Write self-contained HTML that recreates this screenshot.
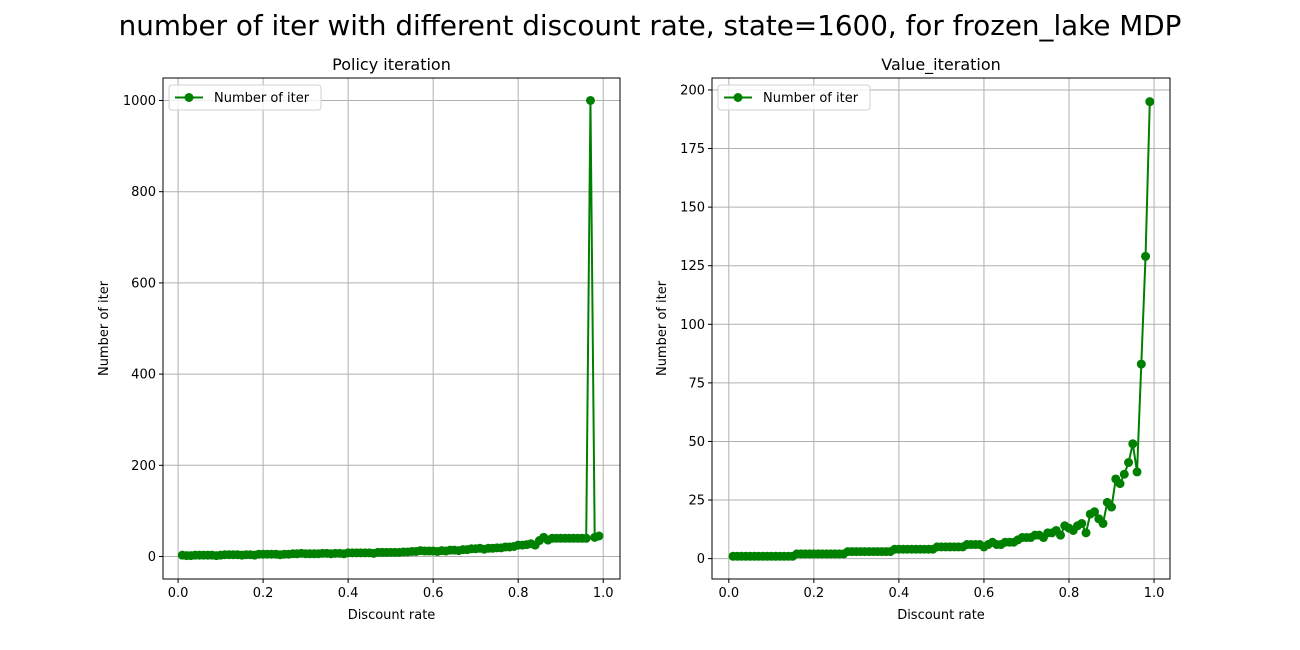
<!DOCTYPE html>
<html><head><meta charset="utf-8"><style>
body{margin:0;background:#fff;}
svg{display:block;font-family:"DejaVu Sans","Liberation Sans",sans-serif;}
</style></head><body>
<svg id="fig" width="1300" height="650">
<rect width="1300" height="650" fill="#fff"/>
<text x="650" y="35" font-size="27.8" text-anchor="middle">number of iter with different discount rate, state=1600, for frozen_lake MDP</text>
</svg>
<script>
const discountRates = Array.from({length:99},(_, i)=>+((i+1)/100).toFixed(2));
const policyIter = [3,2,2,3,3,3,3,3,2,3, 4,4,4,4,3,4,4,3,5,5, 5,5,5,4,5,5,6,6,7,6, 6,6,6,7,7,6,7,7,6,8, 8,8,8,8,8,7,9,9,9,9, 9,9,10,10,11,11,13,12,12,12, 11,13,12,14,14,13,15,15,17,17, 18,16,18,18,19,19,21,21,22,25, 25,26,28,25,35,42,36,40,40,40, 40,40,40,40,40,40,1000,42,45];
const valueIter = [1,1,1,1,1,1,1,1,1,1, 1,1,1,1,1,2,2,2,2,2, 2,2,2,2,2,2,2,3,3,3, 3,3,3,3,3,3,3,3,4,4, 4,4,4,4,4,4,4,4,5,5, 5,5,5,5,5,6,6,6,6,5, 6,7,6,6,7,7,7,8,9,9, 9,10,10,9,11,11,12,10,14,13, 12,14,15,11,19,20,17,15,24,22, 34,32,36,41,49,37,83,129,195];
const xTicks = [0,0.2,0.4,0.6,0.8,1.0];
const xTickLabels = ["0.0","0.2","0.4","0.6","0.8","1.0"];
const yTicksL = [0,200,400,600,800,1000];
const yTicksR = [0,25,50,75,100,125,150,175,200];

const NS="http://www.w3.org/2000/svg";
const svg=document.getElementById('fig');
function mk(tag,attrs,parent){const e=document.createElementNS(NS,tag);for(const k in attrs)e.setAttribute(k,attrs[k]);(parent||svg).appendChild(e);return e;}

function panel(cfg){
  const {x0,x1,y0,y1,xmin,xmax,ymin,ymax,yTicks,ys,title,key}=cfg;
  const sx=v=>x0+(v-xmin)/(xmax-xmin)*(x1-x0);
  const sy=v=>y1-(v-ymin)/(ymax-ymin)*(y1-y0);
  const g=mk('g',{});
  
  
  xTicks.forEach((t,i)=>{
    const X=sx(t);
    const gl=mk('line',{x1:X,x2:X,y1:y0,y2:y1,stroke:'#b0b0b0','stroke-width':1},g);
    
    
    mk('line',{x1:X,x2:X,y1:y1,y2:y1+4,stroke:'#000'},g);
    const tl=mk('text',{x:X,y:y1+18,'font-size':13,'text-anchor':'middle'},g);
    tl.textContent=xTickLabels[i];
    
    
  });
  yTicks.forEach(t=>{
    const Y=sy(t);
    const gl=mk('line',{x1:x0,x2:x1,y1:Y,y2:Y,stroke:'#b0b0b0','stroke-width':1},g);
    
    
    mk('line',{x1:x0-4,x2:x0,y1:Y,y2:Y,stroke:'#000'},g);
    const tl=mk('text',{x:x0-7,y:Y+4.5,'font-size':13,'text-anchor':'end'},g);
    tl.textContent=String(t);
    
    
  });
  const pts=discountRates.map((d,i)=>sx(d).toFixed(2)+','+sy(ys[i]).toFixed(2)).join(' ');
  const line=mk('polyline',{points:pts,fill:'none',stroke:'#008000','stroke-width':2},g);
  
  
  discountRates.forEach((d,i)=>{
    const c=mk('circle',{cx:sx(d),cy:sy(ys[i]),r:4.5,fill:'#008000'},g);
    
    
  });
  const fr=mk('rect',{x:x0,y:y0,width:x1-x0,height:y1-y0,fill:'none',stroke:'#000','stroke-width':1},g);
  
  
  const tt=mk('text',{x:(x0+x1)/2,y:y0-8,'font-size':16,'text-anchor':'middle'},g);
  tt.textContent=title;
  
  
  const xl=mk('text',{x:(x0+x1)/2,y:y1+40,'font-size':13,'text-anchor':'middle'},g);
  xl.textContent='Discount rate';
  
  
  const yl=mk('text',{x:0,y:0,'font-size':13,'text-anchor':'middle',transform:`translate(${cfg.ylx},${(y0+y1)/2}) rotate(-90)`},g);
  yl.textContent='Number of iter';
  
  
  const lg=mk('g',{},g);
  
  
  mk('rect',{x:x0+6,y:y0+7,width:152,height:25,rx:3,fill:'#fff','fill-opacity':0.8,stroke:'#d0d0d0'},lg);
  mk('line',{x1:x0+12,x2:x0+40,y1:y0+19.5,y2:y0+19.5,stroke:'#008000','stroke-width':2},lg);
  mk('circle',{cx:x0+26,cy:y0+19.5,r:4.5,fill:'#008000'},lg);
  const lt=mk('text',{x:x0+51,y:y0+24,'font-size':13},lg);
  lt.textContent='Number of iter';
  
  
}
panel({key:'policy',x0:163,x1:620,y0:78,y1:579,xmin:-0.0355,xmax:1.0395,ymin:-49.3,ymax:1049.3,yTicks:yTicksL,ys:policyIter,title:'Policy iteration',ylx:108});
panel({key:'value',x0:712,x1:1170,y0:78,y1:579,xmin:-0.0395,xmax:1.0375,ymin:-8.7,ymax:205.1,yTicks:yTicksR,ys:valueIter,title:'Value_iteration',ylx:666});
</script>
</body></html>
